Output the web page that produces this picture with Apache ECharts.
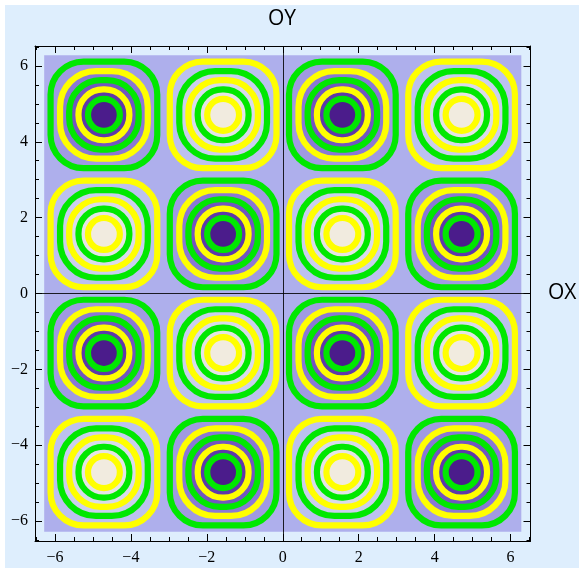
<!DOCTYPE html>
<html><head><meta charset="utf-8">
<script src="https://cdn.jsdelivr.net/npm/echarts@6/dist/echarts.min.js"></script>
<style>
html,body{margin:0;padding:0;background:#fff;width:579px;height:568px;overflow:hidden}
#c{position:absolute;left:5px;top:5px;width:574px;height:563px;background:#DEEEFD}
</style></head><body><div id="c"></div>
<script>
// ---- data ----
const cellCentersX = [-4.71, -1.57, 1.57, 4.71];
const cellCentersY = [4.71, 1.57, -1.57, -4.71];
// 0 = minimum (dark centre), 1 = maximum (light centre); rows top -> bottom
const cellKind = [
  [0, 1, 0, 1],
  [1, 0, 1, 0],
  [0, 1, 0, 1],
  [1, 0, 1, 0]
];
// contour rings, outer -> inner, half size in axis units
const ringHalfSize = [1.405, 1.155, 0.915, 0.67, 0.42];
const ringRoundness = [0.62, 0.82, 0.91, 0.97, 1.0];
const ringColorsMin = ['#00E800', '#FFFF00', '#00E800', '#FFFF00', '#00E800'];
const ringColorsMax = ['#FFFF00', '#00E800', '#FFFF00', '#00E800', '#FFFF00'];
// fill inside each ring, outer -> inner
const bandColorsMin = ['#A09AE2', '#8A78D6', '#7256C0', '#5E39AA', '#4B1C8B'];
const bandColorsMax = ['#BCC1EF', '#CBCFEE', '#D9DBEB', '#E5E4E6', '#F1EBDF'];
const zeroBandColor = '#AEAFEC';
const dataRange = [-6.283, 6.283];
const axisRange = [-6.525, 6.525];
const majorTicks = [-6, -4, -2, 0, 2, 4, 6];
const minorTicks = [-6.5, -6, -5.5, -5, -4.5, -4, -3.5, -3, -2.5, -2, -1.5, -1, -0.5, 0,
  0.5, 1, 1.5, 2, 2.5, 3, 3.5, 4, 4.5, 5, 5.5, 6, 6.5];
const xTitle = 'OX';
const yTitle = 'OY';

// ---- build chart ----
const cellData = [];
cellCentersY.forEach((cy, r) => cellCentersX.forEach((cx, c) => cellData.push([cx, cy, cellKind[r][c]])));

const fmt = v => (v < 0 ? '\u2212' + (-v) : String(v));
const labelFont = {fontFamily: 'Liberation Serif', fontSize: 16, color: '#000'};

function axis(pos, major, labels, margin) {
  return {
    type: 'value', position: pos, min: axisRange[0], max: axisRange[1],
    axisLine: {show: major, onZero: false, lineStyle: {color: '#000', width: 1}},
    axisTick: {show: true, inside: true, length: major ? 7 : 4, customValues: major ? majorTicks : minorTicks,
      lineStyle: {color: '#000', width: 1}},
    axisLabel: Object.assign({show: labels, customValues: majorTicks, formatter: fmt, margin: margin}, labelFont),
    splitLine: {show: false}
  };
}

function ringShape(c, unit, i) {
  const hw = ringHalfSize[i] * unit[0], hh = ringHalfSize[i] * unit[1];
  return {x: c[0] - hw, y: c[1] - hh, width: 2 * hw, height: 2 * hh, r: Math.min(hw, hh) * ringRoundness[i]};
}

const chart = echarts.init(document.getElementById('c'), null, {renderer: 'canvas'});
chart.setOption({
  animation: false,
  backgroundColor: 'transparent',
  grid: {left: 30, top: 41, width: 495.5, height: 495, containLabel: false},
  xAxis: [axis('bottom', true, true, 9), axis('bottom', false, false, 9),
          axis('top', true, false, 9), axis('top', false, false, 9)],
  yAxis: [axis('left', true, true, 7), axis('left', false, false, 7),
          axis('right', true, false, 7), axis('right', false, false, 7)],
  graphic: [
    {type: 'text', x: 277, y: 14, style: {text: yTitle, fontFamily: 'Open Sans', fontSize: 21, fill: '#000',
      textAlign: 'center', textVerticalAlign: 'middle'}},
    {type: 'text', x: 543, y: 288, style: {text: xTitle, fontFamily: 'Open Sans', fontSize: 21, fill: '#000',
      textAlign: 'left', textVerticalAlign: 'middle'}}
  ],
  series: [
    {
      type: 'custom', xAxisIndex: 0, yAxisIndex: 0, z: 1, silent: true,
      data: [[dataRange[0], dataRange[0], dataRange[1], dataRange[1]]],
      encode: {x: [0, 2], y: [1, 3]},
      renderItem: function (params, api) {
        const p1 = api.coord([api.value(0), api.value(3)]);
        const p2 = api.coord([api.value(2), api.value(1)]);
        return {type: 'rect', shape: {x: p1[0], y: p1[1], width: p2[0] - p1[0], height: p2[1] - p1[1]},
          style: {fill: zeroBandColor}};
      }
    },
    {
      type: 'custom', xAxisIndex: 0, yAxisIndex: 0, z: 2, silent: true,
      data: cellData,
      encode: {x: 0, y: 1},
      renderItem: function (params, api) {
        const c = api.coord([api.value(0), api.value(1)]);
        const kind = api.value(2);
        const unit = api.size([1, 1]);
        const bands = kind === 0 ? bandColorsMin : bandColorsMax;
        const rings = kind === 0 ? ringColorsMin : ringColorsMax;
        const children = [];
        ringHalfSize.forEach((h, i) => {
          children.push({type: 'rect', shape: ringShape(c, unit, i), style: {fill: bands[i]}});
        });
        ringHalfSize.forEach((h, i) => {
          children.push({type: 'rect', shape: ringShape(c, unit, i),
            style: {fill: 'none', stroke: rings[i], lineWidth: 6.2}});
        });
        return {type: 'group', children: children};
      },
      markLine: {
        silent: true, symbol: ['none', 'none'], label: {show: false},
        lineStyle: {color: '#000', width: 1, type: 'solid', opacity: 0.85},
        data: [{xAxis: 0}, {yAxis: 0}]
      }
    }
  ]
});
</script></body></html>
